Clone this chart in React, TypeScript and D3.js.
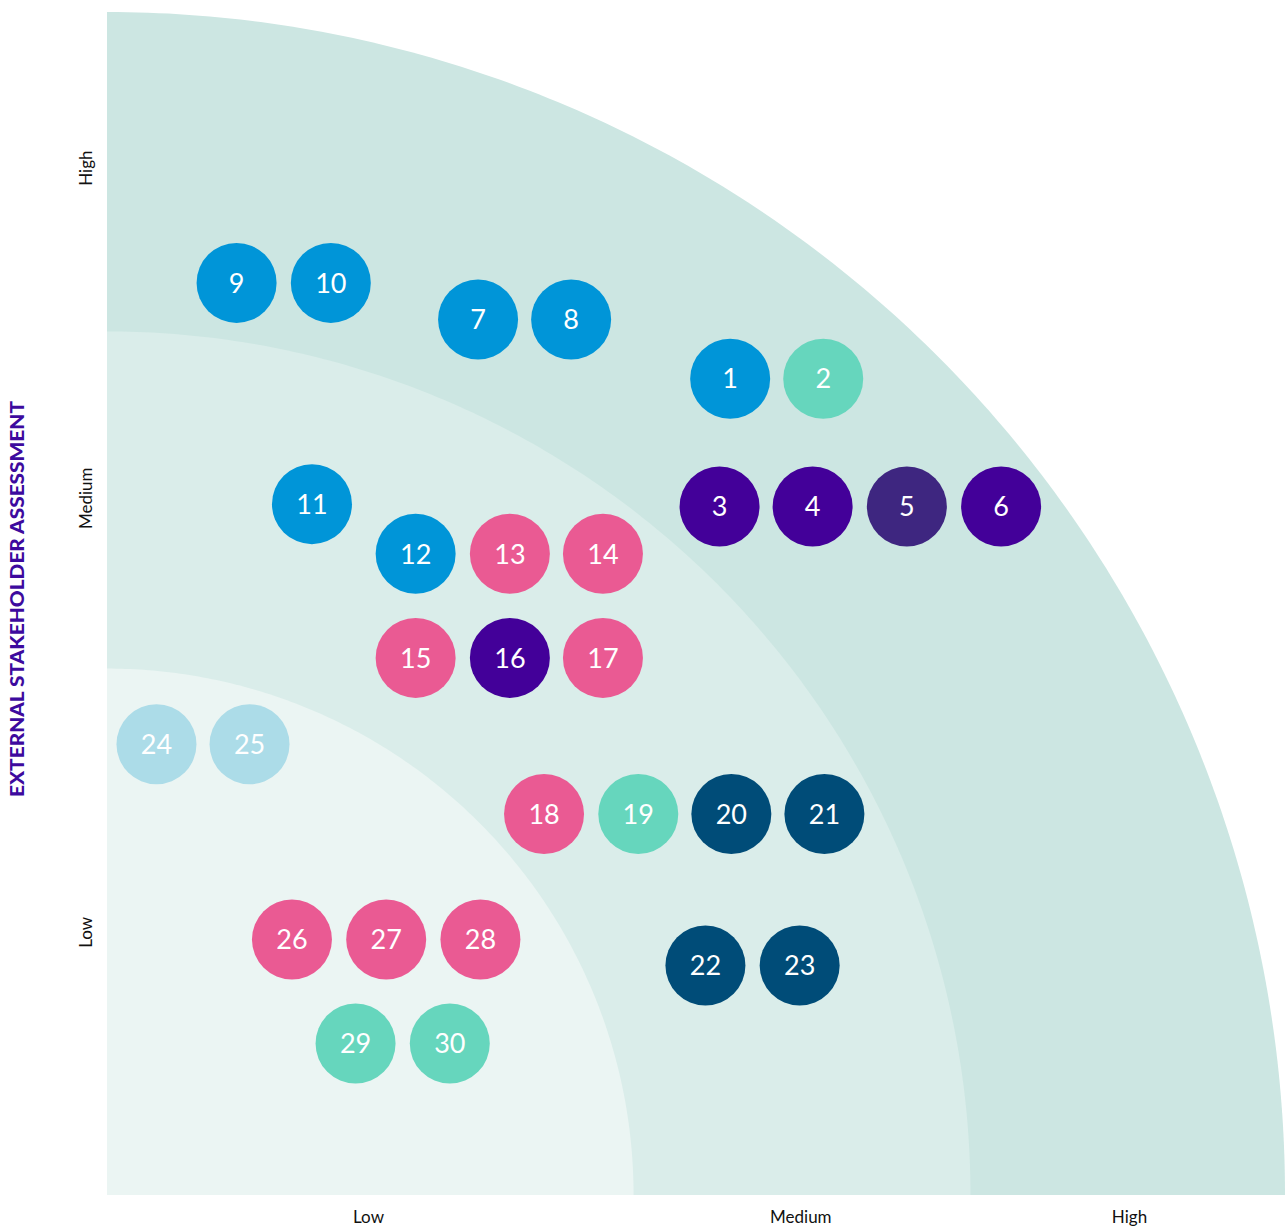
import React from "react";
import * as d3 from "d3";

const ids = [1,2,3,4,5,6,7,8,9,10,11,12,13,14,15,16,17,18,19,20,21,22,23,24,25,26,27,28,29,30];
const xVals = [52.9,60.8,52.0,59.9,67.9,75.9,31.5,39.4,11.0,19.0,17.4,26.2,34.2,42.1,26.2,34.2,42.1,37.1,45.1,53.0,60.9,50.8,58.8,4.2,12.1,15.7,23.7,31.7,21.1,29.1];
const yVals = [69.0,69.0,58.2,58.2,58.2,58.2,74.0,74.0,77.1,77.1,58.4,54.2,54.2,54.2,45.4,45.4,45.4,32.2,32.2,32.2,32.2,19.4,19.4,38.1,38.1,21.6,21.6,21.6,12.8,12.8];
const groups = ["blue","teal","purple","purple","violet","purple","blue","blue","blue","blue","blue","blue","pink","pink","pink","purple","pink","pink","teal","navy","navy","navy","navy","light","light","pink","pink","pink","teal","teal"];
const groupColors: Record<string, string> = {
  blue: "#0095d8",
  teal: "#66d6bd",
  purple: "#430099",
  violet: "#3e2680",
  pink: "#ea5a93",
  navy: "#004c78",
  light: "#acdce8",
};
const bandRadiiX = [100, 73.3, 44.7];
const bandRadiiY = [100, 73.0, 44.5];
const bandColors = ["#cce6e2", "#daedea", "#ebf5f3"];
const levelLabels = ["Low", "Medium", "High"];
const levelPositions = [22.2, 58.9, 86.8];
const yTitle = "EXTERNAL STAKEHOLDER ASSESSMENT";

export default function App() {
  const W = 1285, H = 1228;
  const x = d3.scaleLinear().domain([0, 100]).range([107, 1285]);
  const y = d3.scaleLinear().domain([0, 100]).range([1195, 12]);
  const angles = d3.range(0, 90.5, 0.5).map((a) => (a * Math.PI) / 180);
  const arcPath = (rx: number, ry: number) => {
    const pts: [number, number][] = [[x(0), y(0)]];
    angles.forEach((a) => pts.push([x(rx * Math.cos(a)), y(ry * Math.sin(a))]));
    return d3.line()(pts) + "Z";
  };
  const rPx = 40;
  return (
    <svg width={W} height={H} style={{ position: "absolute", left: 0, top: 0, background: "#fff" }}>
      {bandRadiiX.map((r, i) => (
        <path key={i} d={arcPath(r, bandRadiiY[i])} fill={bandColors[i]} />
      ))}
      {ids.map((id, i) => (
        <g key={id} transform={`translate(${x(xVals[i])},${y(yVals[i])})`}>
          <circle r={rPx} fill={groupColors[groups[i]]} />
          <text
            textAnchor="middle"
            dy="0.36em"
            fill="#fff"
            fontFamily="Lato, 'Open Sans', sans-serif"
            fontSize={27}
            fontWeight={400}
          >
            {id}
          </text>
        </g>
      ))}
      {levelLabels.map((l, i) => (
        <text key={"x" + l} x={x(levelPositions[i])} y={1223} textAnchor="middle" fontFamily="Lato, sans-serif" fontSize={17} fill="#111">
          {l}
        </text>
      ))}
      {levelLabels.map((l, i) => (
        <text
          key={"y" + l}
          transform={`translate(92,${y(levelPositions[i])}) rotate(-90)`}
          textAnchor="middle"
          fontFamily="Lato, sans-serif"
          fontSize={17}
          fill="#111"
        >
          {l}
        </text>
      ))}
      <text
        transform={`translate(24,599) rotate(-90)`}
        textAnchor="middle"
        fontFamily="Lato, 'Open Sans', sans-serif"
        fontWeight={900}
        fontSize={19}
        textLength={396}
        lengthAdjust="spacingAndGlyphs"
        fill="#3d0a9e"
      >
        {yTitle}
      </text>
    </svg>
  );
}
